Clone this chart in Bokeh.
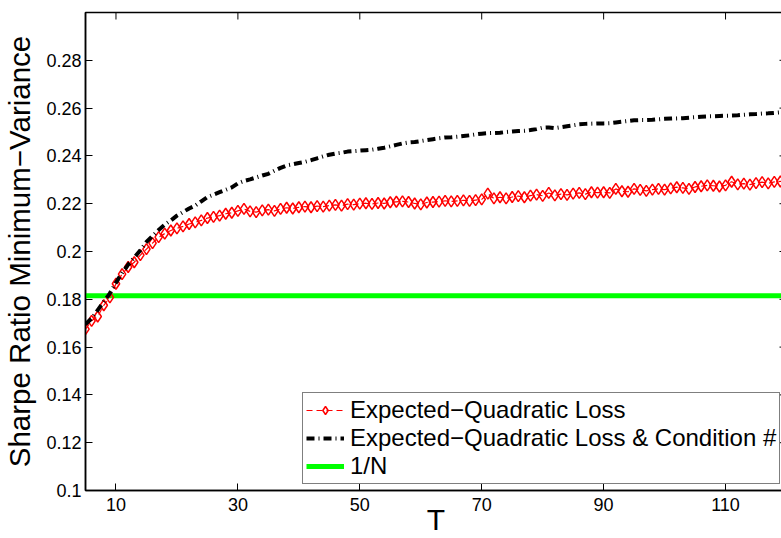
from bokeh.plotting import figure
from bokeh.models import Range1d, FixedTicker, Legend, LegendItem
from bokeh.embed import file_html
from bokeh.resources import INLINE

# ---------------- data ----------------
T = list(range(5, 121))

expected_quadratic = [
    0.1675, 0.1710, 0.1728, 0.1775, 0.1808, 0.1865, 0.1905, 0.1935, 0.1955, 0.1985,  # 5-14
    0.2010, 0.2035, 0.2060, 0.2075, 0.2088, 0.2097, 0.2105, 0.2115, 0.2122, 0.2130,  # 15-24
    0.2140, 0.2145, 0.2150, 0.2158, 0.2162, 0.2170, 0.2178, 0.2168, 0.2165, 0.2172,  # 25-34
    0.2175, 0.2170, 0.2178, 0.2183, 0.2180, 0.2185, 0.2188, 0.2185, 0.2190, 0.2188,  # 35-44
    0.2192, 0.2195, 0.2192, 0.2198, 0.2196, 0.2200, 0.2202, 0.2199, 0.2203, 0.2201,  # 45-54
    0.2206, 0.2208, 0.2210, 0.2207, 0.2201, 0.2197, 0.2205, 0.2207, 0.2209, 0.2212,  # 55-64
    0.2210, 0.2212, 0.2214, 0.2212, 0.2215, 0.2218, 0.2242, 0.2222, 0.2227, 0.2222,  # 65-74
    0.2228, 0.2232, 0.2227, 0.2234, 0.2238, 0.2233, 0.2245, 0.2235, 0.2240, 0.2237,  # 75-84
    0.2242, 0.2245, 0.2240, 0.2248, 0.2246, 0.2248, 0.2245, 0.2262, 0.2252, 0.2250,  # 85-94
    0.2262, 0.2258, 0.2254, 0.2259, 0.2262, 0.2259, 0.2264, 0.2269, 0.2266, 0.2262,  # 95-104
    0.2270, 0.2273, 0.2277, 0.2275, 0.2272, 0.2277, 0.2292, 0.2281, 0.2284, 0.2280,  # 105-114
    0.2286, 0.2290, 0.2285, 0.2291, 0.2293, 0.2296,                                  # 115-120
]

expected_quadratic_cond = [
    0.1695, 0.1720, 0.1755, 0.1790, 0.1825, 0.1870, 0.1910, 0.1945, 0.1975, 0.2005,  # 5-14
    0.2040, 0.2065, 0.2090, 0.2112, 0.2130, 0.2150, 0.2165, 0.2180, 0.2192, 0.2210,  # 15-24
    0.2228, 0.2238, 0.2248, 0.2258, 0.2268, 0.2285, 0.2295, 0.2302, 0.2310, 0.2318,  # 25-34
    0.2325, 0.2338, 0.2350, 0.2360, 0.2365, 0.2370, 0.2375, 0.2382, 0.2390, 0.2398,  # 35-44
    0.2405, 0.2410, 0.2413, 0.2418, 0.2420, 0.2422, 0.2424, 0.2426, 0.2430, 0.2434,  # 45-54
    0.2440, 0.2446, 0.2452, 0.2456, 0.2458, 0.2462, 0.2466, 0.2470, 0.2474, 0.2477,  # 55-64
    0.2478, 0.2480, 0.2483, 0.2486, 0.2490, 0.2493, 0.2495, 0.2496, 0.2497, 0.2500,  # 65-74
    0.2502, 0.2504, 0.2505, 0.2508, 0.2512, 0.2518, 0.2519, 0.2516, 0.2520, 0.2524,  # 75-84
    0.2528, 0.2532, 0.2534, 0.2535, 0.2536, 0.2536, 0.2537, 0.2540, 0.2543, 0.2546,  # 85-94
    0.2549, 0.2550, 0.2550, 0.2551, 0.2553, 0.2555, 0.2556, 0.2557, 0.2558, 0.2560,  # 95-104
    0.2562, 0.2564, 0.2565, 0.2566, 0.2567, 0.2568, 0.2569, 0.2570, 0.2572, 0.2574,  # 105-114
    0.2575, 0.2577, 0.2578, 0.2580, 0.2582, 0.2584,                                  # 115-120
]

one_over_n_T = [5, 120]
one_over_n = [0.1815, 0.1815]

x_min, x_max = 5, 120
y_min, y_max = 0.1, 0.3
x_ticks = [10, 30, 50, 70, 90, 110]
y_ticks = [0.10, 0.12, 0.14, 0.16, 0.18, 0.20, 0.22, 0.24, 0.26, 0.28]
y_tick_labels = ["0.1", "0.12", "0.14", "0.16", "0.18", "0.2", "0.22", "0.24", "0.26", "0.28"]

labels = ["Expected\u2212Quadratic Loss",
          "Expected\u2212Quadratic Loss & Condition #",
          "1/N"]
x_label = "T"
y_label = "Sharpe Ratio Minimum\u2212Variance"

FONT = "Liberation Sans"

# ---------------- figure ----------------
p = figure(frame_width=701, frame_height=478,
           x_range=Range1d(x_min, x_max), y_range=Range1d(y_min, y_max),
           output_backend="svg", toolbar_location=None,
           min_border_left=78, min_border_right=4, min_border_top=12, min_border_bottom=0,
           background_fill_color="white", border_fill_color="white")
p.grid.visible = False
p.outline_line_color = "black"
p.outline_line_width = 1.5

xa = p.xaxis[0]
ya = p.yaxis[0]
xa.ticker = FixedTicker(ticks=x_ticks)
ya.ticker = FixedTicker(ticks=y_ticks)
ya.major_label_overrides = {t: l for t, l in zip(y_ticks, y_tick_labels)}
for ax in (xa, ya):
    ax.major_tick_in = 7
    ax.major_tick_out = 0
    ax.minor_tick_in = 0
    ax.minor_tick_out = 0
    ax.axis_line_color = "black"
    ax.axis_line_width = 1.5
    ax.major_tick_line_color = "black"
    ax.major_tick_line_width = 1
    ax.major_label_text_font = FONT
    ax.major_label_text_font_size = "18px"
    ax.major_label_text_color = "black"
    ax.axis_label_text_font = FONT
    ax.axis_label_text_font_style = "normal"
    ax.axis_label_text_color = "black"
xa.major_label_standoff = 7
ya.major_label_standoff = 4

xa.axis_label = x_label
xa.axis_label_text_font_size = "30px"
xa.axis_label_standoff = -11

ya.axis_label = y_label
ya.axis_label_text_font_size = "29.5px"
ya.axis_label_standoff = 7

# mirrored inward ticks on top and right edges of the box (half of each dash is clipped by the frame)
p.scatter(x_ticks, [y_max] * len(x_ticks), marker="dash", angle=1.5707963, size=14,
          line_color="black", line_width=1)
p.scatter([x_max] * len(y_ticks), y_ticks, marker="dash", size=14,
          line_color="black", line_width=1)

# ---------------- glyphs ----------------
g = p.line(one_over_n_T, one_over_n, line_color="#00ff00", line_width=5)
r_line = p.line(T, expected_quadratic, line_color="red", line_width=1.2, line_dash="6 4")
r_mark = p.scatter(T, expected_quadratic, marker="diamond", size=11,
                   line_color="red", line_width=1.5, fill_color=None)
k_line = p.line(T, expected_quadratic_cond, line_color="black", line_width=4,
                line_dash="8 4 1 4")

legend = Legend(items=[
    LegendItem(label=labels[0], renderers=[r_line, r_mark]),
    LegendItem(label=labels[1], renderers=[k_line]),
    LegendItem(label=labels[2], renderers=[g]),
], location=(217, 6))
legend.label_text_font = FONT
legend.label_text_font_size = "24px"
legend.label_text_color = "black"
legend.border_line_color = "black"
legend.border_line_width = 1
legend.background_fill_color = "white"
legend.background_fill_alpha = 1
legend.glyph_width = 38
legend.glyph_height = 20
legend.label_standoff = 6
legend.label_height = 20
legend.spacing = 0
legend.padding = 3
legend.margin = 0
p.add_layout(legend, "center")

open("out.html", "w").write(file_html(p, INLINE))
